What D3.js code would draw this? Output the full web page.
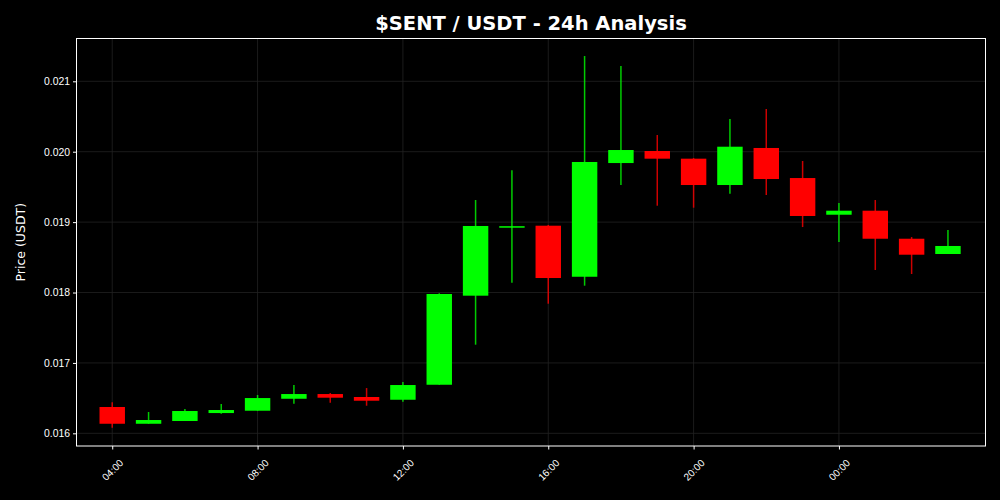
<!DOCTYPE html>
<html>
<head>
<meta charset="utf-8">
<script src="https://cdn.jsdelivr.net/npm/d3@7"></script>
<style>
  body { margin: 0; background: #000; }
  svg { display: block; font-family: "DejaVu Sans", sans-serif; }
</style>
</head>
<body>
<div id="chart"></div>
<script>
// hourly candles, 04:00 -> 03:00 next day
var hours = ["04:00","05:00","06:00","07:00","08:00","09:00","10:00","11:00","12:00","13:00","14:00","15:00",
             "16:00","17:00","18:00","19:00","20:00","21:00","22:00","23:00","00:00","01:00","02:00","03:00"];
var opens  = [0.016374,0.016136,0.016175,0.016288,0.016321,0.016491,0.016558,0.016516,0.016477,0.016690,0.017955,0.018938,
              0.018949,0.018224,0.019839,0.020010,0.019901,0.019527,0.020053,0.019626,0.019105,0.019162,0.018764,0.018547];
var closes = [0.016136,0.016189,0.016317,0.016331,0.016501,0.016558,0.016506,0.016463,0.016686,0.017979,0.018945,0.018942,
              0.018206,0.019854,0.020024,0.019901,0.019527,0.020071,0.019612,0.019087,0.019162,0.018764,0.018537,0.018661];
var highs  = [0.016440,0.016303,0.016345,0.016416,0.016544,0.016686,0.016572,0.016643,0.016729,0.017989,0.019314,0.019736,
              0.018960,0.021359,0.021217,0.020237,0.019910,0.020465,0.020607,0.019868,0.019271,0.019314,0.018788,0.018888];
var lows   = [0.016080,0.016136,0.016175,0.016278,0.016321,0.016420,0.016435,0.016392,0.016449,0.016690,0.017259,0.018139,
              0.017841,0.018097,0.019527,0.019233,0.019205,0.019403,0.019385,0.018930,0.018717,0.018320,0.018263,0.018547];
var yTicks = [0.016, 0.017, 0.018, 0.019, 0.020, 0.021];
var xTickLabels = ["04:00","08:00","12:00","16:00","20:00","00:00"];

var svgWidth = 1000, svgHeight = 500;
var margin = {top: 38.5, right: 14.5, bottom: 54, left: 76.5};
var width = svgWidth - margin.left - margin.right;
var height = svgHeight - margin.top - margin.bottom;

var start = new Date(2024, 0, 1, 4, 0);
var data = hours.map(function(h, i) {
  return {t: d3.timeHour.offset(start, i), label: h, open: opens[i], close: closes[i], high: highs[i], low: lows[i]};
});

var svg = d3.select("#chart").append("svg")
  .attr("width", svgWidth)
  .attr("height", svgHeight);

svg.append("rect").attr("width", svgWidth).attr("height", svgHeight).attr("fill", "#000");

var chartGroup = svg.append("g")
  .attr("transform", `translate(${margin.left}, ${margin.top})`);

var x = d3.scaleTime()
  .domain([d3.timeMinute.offset(start, -59), d3.timeMinute.offset(start, 23 * 60 + 62)])
  .range([0, width]);
var y = d3.scaleLinear()
  .domain([0.01582, 0.021608])
  .range([height, 0]);

var xTickDates = xTickLabels.map(function(l) { return data.find(function(d) { return d.label === l; }).t; });

// grid
chartGroup.append("g").selectAll("line.gy").data(yTicks).enter().append("line")
  .attr("x1", 0).attr("x2", width)
  .attr("y1", d => y(d)).attr("y2", d => y(d))
  .attr("stroke", "#222").attr("stroke-width", 0.8);
chartGroup.append("g").selectAll("line.gx").data(xTickDates).enter().append("line")
  .attr("y1", 0).attr("y2", height)
  .attr("x1", d => x(d)).attr("x2", d => x(d))
  .attr("stroke", "#222").attr("stroke-width", 0.8);

// candles
var bodyW = x(d3.timeMinute.offset(start, 42)) - x(start);
var candles = chartGroup.selectAll("g.candle").data(data).enter().append("g");
candles.append("line")
  .attr("x1", d => x(d.t)).attr("x2", d => x(d.t))
  .attr("y1", d => y(d.high)).attr("y2", d => y(d.low))
  .attr("stroke", d => d.close >= d.open ? "#00ff00" : "#ff0000")
  .attr("stroke-opacity", 0.8)
  .attr("stroke-width", 1.5);
candles.append("rect")
  .attr("x", d => x(d.t) - bodyW / 2)
  .attr("width", bodyW)
  .attr("y", d => y(Math.max(d.open, d.close)))
  .attr("height", d => Math.max(1.5, Math.abs(y(d.open) - y(d.close))))
  .attr("fill", d => d.close >= d.open ? "#00ff00" : "#ff0000");

// axes
var xAxis = d3.axisBottom(x).tickValues(xTickDates).tickFormat(d3.timeFormat("%H:%M")).tickSize(3.5).tickSizeOuter(0);
var yAxis = d3.axisLeft(y).tickValues(yTicks).tickFormat(d3.format(".3f")).tickSize(3.5).tickSizeOuter(0);

var gx = chartGroup.append("g").attr("transform", `translate(0, ${height})`).call(xAxis);
gx.select(".domain").remove();
gx.selectAll("line").attr("stroke", "#fff");
gx.selectAll("text")
  .attr("fill", "#fff")
  .attr("font-size", "10px")
  .style("text-anchor", "middle")
  .attr("x", 0).attr("y", 0)
  .attr("dy", "0.35em")
  .attr("transform", "translate(0, 24) rotate(-45)");

var gy = chartGroup.append("g").call(yAxis);
gy.select(".domain").remove();
gy.selectAll("line").attr("stroke", "#fff");
gy.selectAll("text").attr("fill", "#fff").attr("font-size", "10.4px");

// frame
chartGroup.append("rect")
  .attr("width", width).attr("height", height)
  .attr("fill", "none").attr("stroke", "#fff").attr("stroke-width", 1);

// labels
svg.append("text")
  .attr("x", margin.left + width / 2).attr("y", 30)
  .attr("text-anchor", "middle")
  .attr("fill", "#fff")
  .attr("font-size", "19.5px")
  .attr("font-weight", "bold")
  .text("$SENT / USDT - 24h Analysis");

svg.append("text")
  .attr("transform", `translate(25, ${margin.top + height / 2}) rotate(-90)`)
  .attr("text-anchor", "middle")
  .attr("fill", "#fff")
  .attr("font-size", "12.5px")
  .text("Price (USDT)");
</script>
</body>
</html>
